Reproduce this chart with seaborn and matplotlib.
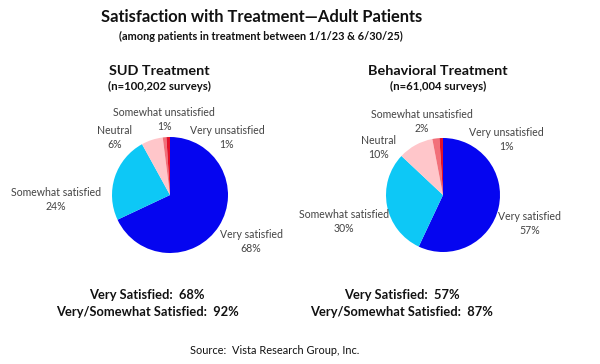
import matplotlib
matplotlib.use("Agg")
import matplotlib.pyplot as plt
import seaborn as sns

# data
categories = ["Very satisfied", "Somewhat satisfied", "Neutral",
              "Somewhat unsatisfied", "Very unsatisfied"]
sud_pct = [68, 24, 6, 1, 1]
beh_pct = [57, 30, 10, 2, 1]
sud_title = "SUD Treatment"
sud_n = "(n=100,202 surveys)"
beh_title = "Behavioral Treatment"
beh_n = "(n=61,004 surveys)"

sns.set_theme(style="white")
plt.rcParams["font.family"] = ["Lato", "DejaVu Sans"]

colors = sns.color_palette(["#0505F0", "#0DC8F6", "#FFC6CA", "#F2707A", "#E2102A"])

W, H = 600, 364
fig = plt.figure(figsize=(6, 3.64), dpi=100)
ax = fig.add_axes([0, 0, 1, 1])

def y(py):
    # pixel rows from the top -> data coords
    return H - py

def draw_panel(vals, cx, cy, r, title, n, title_x, label_pos, sum_x):
    ax.pie(vals, colors=colors, startangle=90, counterclock=False,
           center=(cx, y(cy)), radius=r, wedgeprops=dict(linewidth=0))
    ax.text(title_x, y(71), title, ha="center", va="center",
            fontsize=10.4, fontweight="bold", color="#111111")
    ax.text(title_x, y(86), n, ha="center", va="center",
            fontsize=8.2, fontweight="bold", color="#111111")
    # label name on one line, percentage about 14 px below
    for cat, v, (lx, ly) in zip(categories, vals, label_pos):
        ax.text(lx, y(ly), cat, ha="center", va="center",
                fontsize=7.6, color="#444444")
        ax.text(lx, y(ly + 14), f"{v}%", ha="center", va="center",
                fontsize=7.6, color="#444444")
    ax.text(sum_x, y(295), f"Very Satisfied:  {vals[0]}%", ha="center",
            va="center", fontsize=9.3, fontweight="bold", color="#111111")
    ax.text(sum_x, y(312), f"Very/Somewhat Satisfied:  {vals[0] + vals[1]}%",
            ha="center", va="center", fontsize=9.3, fontweight="bold",
            color="#111111")

draw_panel(sud_pct, 170, 195, 58, sud_title, sud_n, 159,
           [(251, 235), (56, 193), (115, 130), (164, 113), (227, 131)], 147)
draw_panel(beh_pct, 443, 195, 57, beh_title, beh_n, 438,
           [(530, 216), (344, 214), (379, 140), (422, 115), (506, 132)], 402)

ax.text(262, y(17), "Satisfaction with Treatment\u2014Adult Patients",
        ha="center", va="center", fontsize=11.9, fontweight="bold",
        color="#111111")
ax.text(261, y(36), "(among patients in treatment between 1/1/23 & 6/30/25)",
        ha="center", va="center", fontsize=7.9, fontweight="bold",
        color="#111111")
ax.text(275, y(351), "Source:  Vista Research Group, Inc.", ha="center",
        va="center", fontsize=7.9, color="#111111")

ax.set_xlim(0, W)
ax.set_ylim(0, H)
ax.set_axis_off()

fig.savefig("out.png", dpi=100, facecolor="white")
